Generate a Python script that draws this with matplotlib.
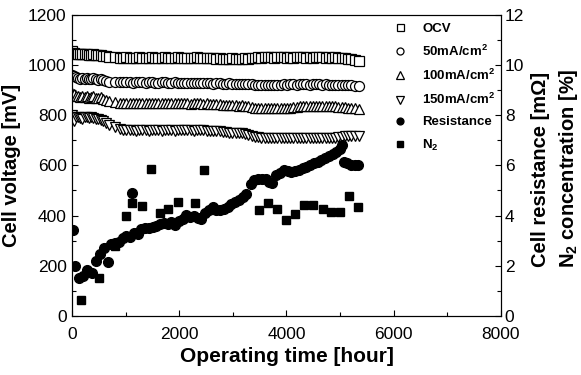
import matplotlib
matplotlib.use('Agg')
import matplotlib.pyplot as plt
from matplotlib.ticker import MultipleLocator

plt.rcParams['font.family'] = ['Liberation Sans', 'DejaVu Sans']
plt.rcParams['mathtext.fontset'] = 'custom'
plt.rcParams['mathtext.rm'] = 'Liberation Sans:bold'
plt.rcParams['mathtext.default'] = 'rm'

# cell voltage readings (hours, mV)
hours_v = [0, 30, 70, 110, 150, 190, 230, 270, 310, 350, 395, 440, 485, 530, 580, 630, 690, 790,
           890, 950, 1010, 1070, 1130, 1190, 1250, 1310, 1370, 1430, 1490, 1550, 1610, 1670,
           1730, 1790, 1850, 1910, 1970, 2030, 2090, 2150, 2210, 2270, 2330, 2390, 2450, 2510,
           2570, 2630, 2690, 2750, 2810, 2870, 2930, 2990, 3050, 3110, 3170, 3230, 3290, 3350,
           3410, 3470, 3530, 3590, 3650, 3710, 3770, 3830, 3890, 3950, 4010, 4070, 4130, 4190,
           4250, 4310, 4370, 4430, 4490, 4550, 4610, 4670, 4730, 4790, 4850, 4910, 4970, 5030,
           5090, 5150, 5210, 5270, 5350]

ocv = [1058, 1048, 1045, 1044, 1043, 1046, 1044, 1043, 1041, 1042, 1044, 1040, 1041, 1042, 1038, 1036, 1034, 1031,
       1030, 1029, 1031, 1030, 1029, 1030, 1031, 1030, 1029, 1030, 1031, 1030, 1029, 1030,
       1031, 1030, 1029, 1030, 1031, 1030, 1029, 1030, 1030, 1029, 1031, 1030, 1029, 1030,
       1028, 1027, 1026, 1027, 1026, 1025, 1026, 1027, 1026, 1025, 1026, 1027, 1026, 1028,
       1030, 1031, 1030, 1031, 1032, 1031, 1030, 1031, 1032, 1031, 1030, 1031, 1030, 1031,
       1032, 1031, 1030, 1031, 1030, 1031, 1032, 1031, 1030, 1031, 1030, 1031, 1030, 1029,
       1028, 1026, 1024, 1021, 1017]

i50 = [962, 957, 952, 949, 946, 950, 945, 947, 943, 946, 948, 943, 940, 945, 941, 938, 934, 931,
       932, 931, 933, 932, 930, 931, 932, 931, 930, 931, 932, 930, 929, 931,
       932, 930, 929, 931, 930, 929, 928, 930, 929, 928, 930, 929, 928, 929,
       927, 926, 928, 927, 925, 926, 927, 925, 924, 925, 926, 924, 923, 924,
       922, 921, 922, 921, 920, 921, 922, 921, 922, 923, 922, 924, 923, 922,
       923, 924, 923, 922, 923, 924, 923, 922, 923, 922, 921, 922, 921, 920,
       921, 920, 919, 918, 917]

i100 = [890, 884, 878, 876, 874, 878, 873, 875, 870, 872, 875, 870, 868, 872, 866, 862, 858, 853,
        849, 848, 850, 849, 848, 849, 850, 848, 847, 849, 850, 848, 847, 849,
        848, 847, 848, 849, 848, 847, 848, 847, 846, 847, 848, 847, 846, 847,
        845, 844, 845, 843, 842, 841, 840, 841, 839, 838, 839, 838, 836, 832,
        829, 828, 829, 828, 827, 828, 829, 828, 827, 828, 829, 828, 831, 834,
        836, 837, 836, 835, 836, 837, 836, 835, 836, 835, 836, 835, 834, 833,
        831, 830, 829, 827, 826]

i150 = [802, 778, 792, 795, 790, 787, 793, 795, 790, 792, 789, 785, 787, 782, 777, 770, 763, 752,
        744, 742, 741, 740, 741, 739, 740, 741, 740, 739, 740, 741, 740, 739,
        740, 741, 740, 739, 740, 741, 742, 741, 740, 739, 740, 741, 740, 739,
        738, 737, 738, 736, 735, 733, 731, 730, 729, 730, 728, 726, 722, 718,
        714, 712, 711, 710, 711, 710, 709, 710, 711, 710, 709, 710, 709, 710,
        711, 710, 709, 708, 709, 710, 709, 708, 709, 708, 709, 710, 712, 714,
        716, 717, 716, 717, 716]

# cell resistance (hours, mOhm)
hours_r = [20, 50, 120, 200, 280, 360, 450, 520, 600, 670, 720, 800, 880, 950, 1010, 1080, 1121,
           1150, 1220, 1290, 1360, 1430, 1500, 1570, 1640, 1710, 1780, 1850, 1920, 1990, 2060,
           2130, 2200, 2270, 2340, 2410, 2480, 2550, 2620, 2690, 2760, 2830, 2900, 2970, 3040,
           3110, 3180, 3250, 3330, 3400, 3470, 3540, 3610, 3680, 3730, 3800, 3880, 3950, 4020,
           4090, 4160, 4230, 4300, 4370, 4440, 4510, 4580, 4650, 4720, 4790, 4860, 4930, 4990,
           5030, 5070, 5130, 5200, 5270, 5340]
resistance = [3.43, 2.0, 1.5, 1.58, 1.82, 1.7, 2.2, 2.45, 2.7, 2.15, 2.85, 2.9, 2.95, 3.1, 3.2, 3.15, 4.9,
              3.3, 3.25, 3.45, 3.5, 3.52, 3.55, 3.6, 3.65, 3.7, 3.68, 3.75, 3.62, 3.8, 3.85,
              4.02, 3.95, 4.0, 3.9, 3.88, 4.1, 4.2, 4.35, 4.22, 4.2, 4.25, 4.32, 4.45, 4.52,
              4.6, 4.72, 4.85, 5.25, 5.4, 5.45, 5.45, 5.45, 5.32, 5.3, 5.6, 5.7, 5.82, 5.78,
              5.72, 5.76, 5.8, 5.9, 5.95, 6.02, 6.08, 6.15, 6.22, 6.3, 6.38, 6.45, 6.55, 6.65,
              6.8, 6.12, 6.08, 6.02, 6.0, 6.02]

# N2 concentration (hours, %)
hours_n = [165, 500, 800, 1010, 1120, 1295, 1470, 1630, 1795, 1970, 2300, 2465,
           3480, 3650, 3815, 3990, 4155, 4320, 4490, 4680, 4830, 4995, 5160, 5335]
n2 = [0.63, 1.5, 2.8, 4.0, 4.5, 4.36, 5.87, 4.1, 4.26, 4.55, 4.48, 5.83,
      4.23, 4.5, 4.26, 3.83, 4.06, 4.43, 4.43, 4.26, 4.14, 4.14, 4.79, 4.32]

fig = plt.figure(figsize=[5.81, 3.75], dpi=100)
ax1 = fig.add_axes([0.1244, 0.158, 0.7374, 0.802])  #[left, bottom, width, height]
ax2 = ax1.twinx()

ms = 7.2
mew = 0.9
h1, = ax1.plot(hours_v, ocv, 's', ms=ms, mfc='white', mec='black', mew=mew, label='OCV')
h2, = ax1.plot(hours_v, i50, 'o', ms=ms, mfc='white', mec='black', mew=mew, label='50mA/cm$^2$')
h3, = ax1.plot(hours_v, i100, '^', ms=ms + 0.5, mfc='white', mec='black', mew=mew, label='100mA/cm$^2$')
h4, = ax1.plot(hours_v, i150, 'v', ms=ms + 0.5, mfc='white', mec='black', mew=mew, label='150mA/cm$^2$')
h5, = ax2.plot(hours_r, resistance, 'o', ms=7, color='black', label='Resistance')
h6, = ax2.plot(hours_n, n2, 's', ms=6, color='black', label='N$_2$')

ax1.set_xlim(0, 8000)
ax1.set_ylim(0, 1200)
ax2.set_ylim(0, 12)
ax1.xaxis.set_major_locator(MultipleLocator(2000))
ax1.xaxis.set_minor_locator(MultipleLocator(1000))
ax1.yaxis.set_major_locator(MultipleLocator(200))
ax1.yaxis.set_minor_locator(MultipleLocator(100))
ax2.yaxis.set_major_locator(MultipleLocator(2))
ax2.yaxis.set_minor_locator(MultipleLocator(1))

for ax in (ax1, ax2):
    ax.tick_params(which='both', direction='in', labelsize=12.5, width=0.8)
    ax.tick_params(which='major', length=4)
    ax.tick_params(which='minor', length=3)
    for sp in ax.spines.values():
        sp.set_linewidth(0.8)
ax1.tick_params(axis='x', pad=8)
ax1.tick_params(axis='y', pad=4)
ax2.tick_params(axis='y', pad=3)

ax1.set_xlabel('Operating time [hour]', fontsize=15, fontweight='bold', labelpad=4)
ax1.set_ylabel('Cell voltage [mV]', fontsize=14.5, fontweight='bold', labelpad=5)

# right-hand axis title, two rotated lines
fig.text(540 / 581, 1 - 169 / 375, 'Cell resistance [mΩ]', rotation=90, fontsize=14.5,
         fontweight='bold', ha='center', va='center')
fig.text(569 / 581, 1 - 168 / 375, 'N$_2$ concentration [%]', rotation=90, fontsize=14.5,
         fontweight='bold', ha='center', va='center')

leg = ax1.legend(handles=[h1, h2, h3, h4, h5, h6], loc='upper left',
                 bbox_to_anchor=(0.7495, 0.975), frameon=False,
                 prop={'weight': 'bold', 'size': 9.5}, markerscale=0.7,
                 labelspacing=0.68, handlelength=1.0, handletextpad=1.17,
                 borderpad=0, borderaxespad=0)

fig.savefig('out.png', dpi=100)
